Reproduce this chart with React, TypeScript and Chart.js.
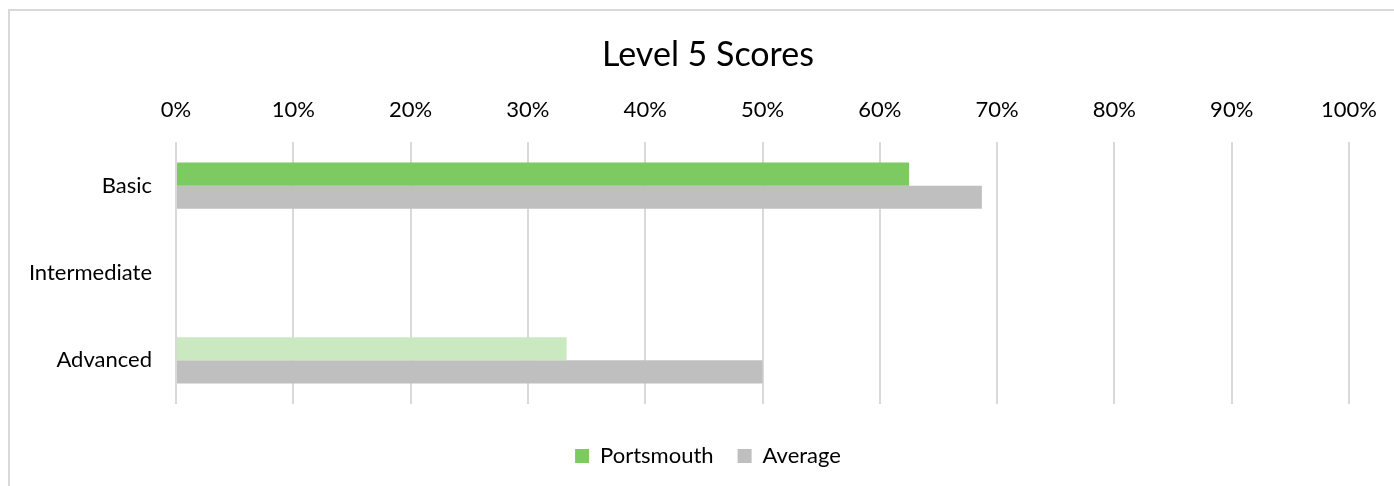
import React, { useEffect, useRef } from "react";
import { Chart, registerables } from "chart.js";

Chart.register(...registerables);

const categories = ["Basic", "Intermediate", "Advanced"];
const portsmouthValues: (number | null)[] = [62.5, null, 33.3];
const averageValues: (number | null)[] = [68.7, null, 50];
const portsmouthColors = ["#7dca63", "#7dca63", "#cbe9c0"];
const averageColor = "#bfbfbf";
const xTicks = [0, 10, 20, 30, 40, 50, 60, 70, 80, 90, 100];

const FONT = "Lato, 'Open Sans', sans-serif";
const CANVAS_W = 1416;

export default function App() {
  const ref = useRef<HTMLCanvasElement | null>(null);

  useEffect(() => {
    if (!ref.current) return;
    const chart = new Chart(ref.current, {
      type: "bar",
      data: {
        labels: categories,
        datasets: [
          {
            label: "Portsmouth",
            data: portsmouthValues,
            backgroundColor: portsmouthColors,
            categoryPercentage: 0.529,
            barPercentage: 1,
            xAxisID: "x",
            yAxisID: "y",
          },
          {
            label: "Average",
            data: averageValues,
            backgroundColor: averageColor,
            categoryPercentage: 0.529,
            barPercentage: 1,
            xAxisID: "x",
            yAxisID: "y",
          },
        ],
      },
      options: {
        indexAxis: "y",
        animation: false,
        responsive: false,
        maintainAspectRatio: false,
        layout: { padding: { left: 0, right: 0, top: 0, bottom: 9 } },
        plugins: {
          title: {
            display: true,
            text: "Level 5 Scores",
            color: "#000",
            font: { family: FONT, size: 34, weight: "normal" },
            padding: { top: 35, bottom: 0 },
          },
          legend: {
            position: "bottom",
            labels: {
              color: "#000",
              font: { family: FONT, size: 22 },
              boxWidth: 14,
              boxHeight: 14,
              padding: 24,
              generateLabels: (c: any) => {
                const items = Chart.defaults.plugins.legend.labels.generateLabels(c);
                items.forEach((it: any, i: number) => {
                  it.fillStyle = i === 0 ? portsmouthColors[0] : averageColor;
                  it.strokeStyle = it.fillStyle;
                  it.lineWidth = 0;
                });
                return items;
              },
            },
          },
          tooltip: { enabled: false },
        },
        scales: {
          y: {
            type: "category",
            afterFit: (s: any) => {
              s.width = 176;
            },
            ticks: {
              color: "#000",
              font: { family: FONT, size: 22 },
              padding: 24,
            },
            grid: { display: false, drawTicks: false },
            border: { display: false },
          },
          x: {
            type: "linear",
            position: "top",
            min: 0,
            max: 100,
            afterBuildTicks: (s: any) => {
              s.ticks = xTicks.map((v) => ({ value: v }));
            },
            afterFit: (s: any) => {
              s.height = 66.2;
            },
            ticks: {
              color: "#000",
              font: { family: FONT, size: 22 },
              padding: 18.8,
              callback: (v: any) => v + "%",
            },
            grid: { color: "#d9d9d9", lineWidth: 2, drawTicks: false },
            border: { display: false },
          },
          spacer: {
            type: "linear",
            axis: "x",
            position: "bottom",
            min: 0,
            max: 100,
            afterFit: (s: any) => {
              s.height = 17;
            },
            ticks: { display: false },
            grid: { display: false, drawTicks: false },
            border: { display: false },
          },
          rightSpacer: {
            type: "linear",
            axis: "y",
            position: "right",
            min: 0,
            max: 1,
            afterFit: (s: any) => {
              s.width = CANVAS_W - 1349;
            },
            ticks: { display: false },
            grid: { display: false, drawTicks: false },
            border: { display: false },
          },
        },
      },
    });
    return () => chart.destroy();
  }, []);

  return (
    <div style={{ position: "absolute", left: 0, top: 0, width: 1394, height: 486, background: "#fff", overflow: "hidden" }}>
      <div
        style={{
          position: "absolute",
          left: 8,
          top: 9,
          width: 1500,
          height: 600,
          border: "2px solid #d9d9d9",
          boxSizing: "border-box",
        }}
      />
      <canvas ref={ref} width={CANVAS_W} height={486} style={{ position: "absolute", left: 0, top: 0 }} />
    </div>
  );
}
